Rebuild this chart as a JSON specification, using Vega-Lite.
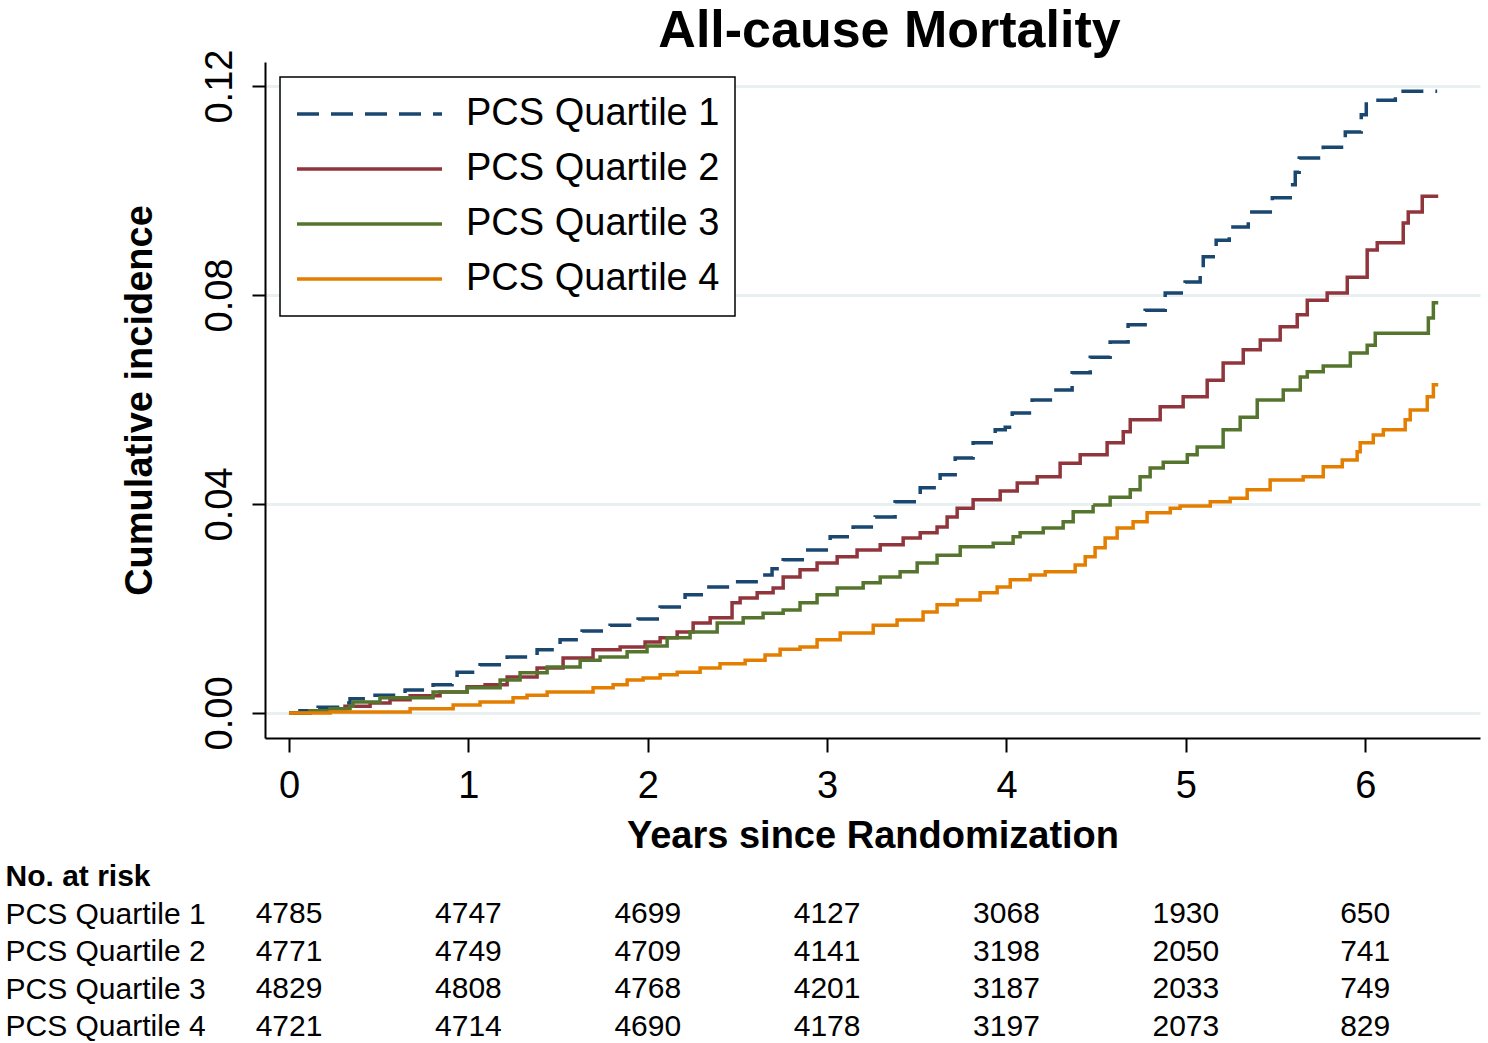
{
  "$schema": "https://vega.github.io/schema/vega-lite/v6.json",
  "padding": {"left": 5, "top": 5, "right": 8, "bottom": 5},
  "background": "white",
  "config": {
    "font": "Liberation Sans",
    "view": {"stroke": null},
    "axis": {"labelColor": "black", "titleColor": "black", "domainColor": "black", "tickColor": "black", "domainWidth": 2, "tickWidth": 2},
    "legend": {"orient": "top-left", "direction": "vertical", "offset": 15, "padding": 15, "strokeColor": "black", "strokeWidth": 1.5, "fillColor": "white", "labelFontSize": 38, "labelColor": "black", "labelOffset": 22, "symbolType": "stroke", "symbolSize": 21025, "symbolStrokeWidth": 3.5, "clipHeight": 44, "rowPadding": 11, "labelLimit": 0}
  },
  "datasets": {
    "curves": [
      {"g": "PCS Quartile 1", "t": 0, "y": 0},
      {"g": "PCS Quartile 1", "t": 0.061, "y": 0.0004},
      {"g": "PCS Quartile 1", "t": 0.128, "y": 0.0008},
      {"g": "PCS Quartile 1", "t": 0.162, "y": 0.0011},
      {"g": "PCS Quartile 1", "t": 0.312, "y": 0.0019},
      {"g": "PCS Quartile 1", "t": 0.340, "y": 0.0027},
      {"g": "PCS Quartile 1", "t": 0.468, "y": 0.0034},
      {"g": "PCS Quartile 1", "t": 0.647, "y": 0.0044},
      {"g": "PCS Quartile 1", "t": 0.803, "y": 0.0054},
      {"g": "PCS Quartile 1", "t": 0.909, "y": 0.0067},
      {"g": "PCS Quartile 1", "t": 0.937, "y": 0.0078},
      {"g": "PCS Quartile 1", "t": 1.065, "y": 0.0092},
      {"g": "PCS Quartile 1", "t": 1.216, "y": 0.0107},
      {"g": "PCS Quartile 1", "t": 1.383, "y": 0.0121},
      {"g": "PCS Quartile 1", "t": 1.511, "y": 0.0140},
      {"g": "PCS Quartile 1", "t": 1.634, "y": 0.0157},
      {"g": "PCS Quartile 1", "t": 1.790, "y": 0.0168},
      {"g": "PCS Quartile 1", "t": 1.946, "y": 0.0180},
      {"g": "PCS Quartile 1", "t": 2.069, "y": 0.0203},
      {"g": "PCS Quartile 1", "t": 2.208, "y": 0.0226},
      {"g": "PCS Quartile 1", "t": 2.325, "y": 0.0241},
      {"g": "PCS Quartile 1", "t": 2.487, "y": 0.0251},
      {"g": "PCS Quartile 1", "t": 2.626, "y": 0.0264},
      {"g": "PCS Quartile 1", "t": 2.693, "y": 0.0276},
      {"g": "PCS Quartile 1", "t": 2.755, "y": 0.0293},
      {"g": "PCS Quartile 1", "t": 2.877, "y": 0.0312},
      {"g": "PCS Quartile 1", "t": 3.017, "y": 0.0337},
      {"g": "PCS Quartile 1", "t": 3.145, "y": 0.0356},
      {"g": "PCS Quartile 1", "t": 3.268, "y": 0.0375},
      {"g": "PCS Quartile 1", "t": 3.379, "y": 0.0404},
      {"g": "PCS Quartile 1", "t": 3.519, "y": 0.0431},
      {"g": "PCS Quartile 1", "t": 3.630, "y": 0.0456},
      {"g": "PCS Quartile 1", "t": 3.714, "y": 0.0488},
      {"g": "PCS Quartile 1", "t": 3.814, "y": 0.0517},
      {"g": "PCS Quartile 1", "t": 3.937, "y": 0.0542},
      {"g": "PCS Quartile 1", "t": 3.993, "y": 0.0547},
      {"g": "PCS Quartile 1", "t": 4.032, "y": 0.0574},
      {"g": "PCS Quartile 1", "t": 4.143, "y": 0.0599},
      {"g": "PCS Quartile 1", "t": 4.260, "y": 0.0618},
      {"g": "PCS Quartile 1", "t": 4.366, "y": 0.0651},
      {"g": "PCS Quartile 1", "t": 4.467, "y": 0.0681},
      {"g": "PCS Quartile 1", "t": 4.578, "y": 0.0710},
      {"g": "PCS Quartile 1", "t": 4.678, "y": 0.0743},
      {"g": "PCS Quartile 1", "t": 4.773, "y": 0.0771},
      {"g": "PCS Quartile 1", "t": 4.885, "y": 0.0804},
      {"g": "PCS Quartile 1", "t": 4.996, "y": 0.0825},
      {"g": "PCS Quartile 1", "t": 5.080, "y": 0.0848},
      {"g": "PCS Quartile 1", "t": 5.097, "y": 0.0873},
      {"g": "PCS Quartile 1", "t": 5.169, "y": 0.0905},
      {"g": "PCS Quartile 1", "t": 5.242, "y": 0.0930},
      {"g": "PCS Quartile 1", "t": 5.348, "y": 0.0959},
      {"g": "PCS Quartile 1", "t": 5.482, "y": 0.0986},
      {"g": "PCS Quartile 1", "t": 5.582, "y": 0.1011},
      {"g": "PCS Quartile 1", "t": 5.610, "y": 0.1035},
      {"g": "PCS Quartile 1", "t": 5.632, "y": 0.1062},
      {"g": "PCS Quartile 1", "t": 5.766, "y": 0.1083},
      {"g": "PCS Quartile 1", "t": 5.889, "y": 0.1112},
      {"g": "PCS Quartile 1", "t": 5.978, "y": 0.1145},
      {"g": "PCS Quartile 1", "t": 6.006, "y": 0.1173},
      {"g": "PCS Quartile 1", "t": 6.168, "y": 0.1190},
      {"g": "PCS Quartile 1", "t": 6.401, "y": 0.1190},

      {"g": "PCS Quartile 2", "t": 0, "y": 0},
      {"g": "PCS Quartile 2", "t": 0.117, "y": 0.0004},
      {"g": "PCS Quartile 2", "t": 0.229, "y": 0.0008},
      {"g": "PCS Quartile 2", "t": 0.312, "y": 0.0013},
      {"g": "PCS Quartile 2", "t": 0.452, "y": 0.0019},
      {"g": "PCS Quartile 2", "t": 0.563, "y": 0.0025},
      {"g": "PCS Quartile 2", "t": 0.675, "y": 0.0033},
      {"g": "PCS Quartile 2", "t": 0.842, "y": 0.0040},
      {"g": "PCS Quartile 2", "t": 0.993, "y": 0.0050},
      {"g": "PCS Quartile 2", "t": 1.093, "y": 0.0054},
      {"g": "PCS Quartile 2", "t": 1.216, "y": 0.0069},
      {"g": "PCS Quartile 2", "t": 1.383, "y": 0.0086},
      {"g": "PCS Quartile 2", "t": 1.528, "y": 0.0105},
      {"g": "PCS Quartile 2", "t": 1.695, "y": 0.0121},
      {"g": "PCS Quartile 2", "t": 1.846, "y": 0.0126},
      {"g": "PCS Quartile 2", "t": 1.985, "y": 0.0136},
      {"g": "PCS Quartile 2", "t": 2.069, "y": 0.0144},
      {"g": "PCS Quartile 2", "t": 2.164, "y": 0.0155},
      {"g": "PCS Quartile 2", "t": 2.253, "y": 0.0172},
      {"g": "PCS Quartile 2", "t": 2.348, "y": 0.0182},
      {"g": "PCS Quartile 2", "t": 2.470, "y": 0.0211},
      {"g": "PCS Quartile 2", "t": 2.515, "y": 0.0220},
      {"g": "PCS Quartile 2", "t": 2.610, "y": 0.0230},
      {"g": "PCS Quartile 2", "t": 2.699, "y": 0.0239},
      {"g": "PCS Quartile 2", "t": 2.755, "y": 0.0260},
      {"g": "PCS Quartile 2", "t": 2.849, "y": 0.0274},
      {"g": "PCS Quartile 2", "t": 2.944, "y": 0.0287},
      {"g": "PCS Quartile 2", "t": 3.056, "y": 0.0299},
      {"g": "PCS Quartile 2", "t": 3.167, "y": 0.0312},
      {"g": "PCS Quartile 2", "t": 3.296, "y": 0.0322},
      {"g": "PCS Quartile 2", "t": 3.424, "y": 0.0335},
      {"g": "PCS Quartile 2", "t": 3.519, "y": 0.0345},
      {"g": "PCS Quartile 2", "t": 3.613, "y": 0.0356},
      {"g": "PCS Quartile 2", "t": 3.669, "y": 0.0375},
      {"g": "PCS Quartile 2", "t": 3.725, "y": 0.0392},
      {"g": "PCS Quartile 2", "t": 3.814, "y": 0.0408},
      {"g": "PCS Quartile 2", "t": 3.965, "y": 0.0425},
      {"g": "PCS Quartile 2", "t": 4.060, "y": 0.0440},
      {"g": "PCS Quartile 2", "t": 4.171, "y": 0.0452},
      {"g": "PCS Quartile 2", "t": 4.299, "y": 0.0478},
      {"g": "PCS Quartile 2", "t": 4.411, "y": 0.0494},
      {"g": "PCS Quartile 2", "t": 4.561, "y": 0.0517},
      {"g": "PCS Quartile 2", "t": 4.651, "y": 0.0538},
      {"g": "PCS Quartile 2", "t": 4.690, "y": 0.0561},
      {"g": "PCS Quartile 2", "t": 4.857, "y": 0.0586},
      {"g": "PCS Quartile 2", "t": 4.985, "y": 0.0605},
      {"g": "PCS Quartile 2", "t": 5.119, "y": 0.0637},
      {"g": "PCS Quartile 2", "t": 5.208, "y": 0.0670},
      {"g": "PCS Quartile 2", "t": 5.320, "y": 0.0695},
      {"g": "PCS Quartile 2", "t": 5.415, "y": 0.0714},
      {"g": "PCS Quartile 2", "t": 5.526, "y": 0.0739},
      {"g": "PCS Quartile 2", "t": 5.621, "y": 0.0762},
      {"g": "PCS Quartile 2", "t": 5.677, "y": 0.0790},
      {"g": "PCS Quartile 2", "t": 5.788, "y": 0.0804},
      {"g": "PCS Quartile 2", "t": 5.900, "y": 0.0834},
      {"g": "PCS Quartile 2", "t": 6.011, "y": 0.0886},
      {"g": "PCS Quartile 2", "t": 6.067, "y": 0.0900},
      {"g": "PCS Quartile 2", "t": 6.212, "y": 0.0938},
      {"g": "PCS Quartile 2", "t": 6.240, "y": 0.0959},
      {"g": "PCS Quartile 2", "t": 6.318, "y": 0.0989},
      {"g": "PCS Quartile 2", "t": 6.407, "y": 0.0989},

      {"g": "PCS Quartile 3", "t": 0, "y": 0},
      {"g": "PCS Quartile 3", "t": 0.117, "y": 0.0004},
      {"g": "PCS Quartile 3", "t": 0.229, "y": 0.0008},
      {"g": "PCS Quartile 3", "t": 0.340, "y": 0.0013},
      {"g": "PCS Quartile 3", "t": 0.357, "y": 0.0021},
      {"g": "PCS Quartile 3", "t": 0.507, "y": 0.0029},
      {"g": "PCS Quartile 3", "t": 0.803, "y": 0.0040},
      {"g": "PCS Quartile 3", "t": 0.993, "y": 0.0048},
      {"g": "PCS Quartile 3", "t": 1.177, "y": 0.0063},
      {"g": "PCS Quartile 3", "t": 1.288, "y": 0.0077},
      {"g": "PCS Quartile 3", "t": 1.439, "y": 0.0088},
      {"g": "PCS Quartile 3", "t": 1.623, "y": 0.0101},
      {"g": "PCS Quartile 3", "t": 1.734, "y": 0.0107},
      {"g": "PCS Quartile 3", "t": 1.885, "y": 0.0117},
      {"g": "PCS Quartile 3", "t": 1.996, "y": 0.0128},
      {"g": "PCS Quartile 3", "t": 2.108, "y": 0.0144},
      {"g": "PCS Quartile 3", "t": 2.236, "y": 0.0155},
      {"g": "PCS Quartile 3", "t": 2.387, "y": 0.0172},
      {"g": "PCS Quartile 3", "t": 2.532, "y": 0.0182},
      {"g": "PCS Quartile 3", "t": 2.643, "y": 0.0191},
      {"g": "PCS Quartile 3", "t": 2.755, "y": 0.0197},
      {"g": "PCS Quartile 3", "t": 2.849, "y": 0.0211},
      {"g": "PCS Quartile 3", "t": 2.944, "y": 0.0226},
      {"g": "PCS Quartile 3", "t": 3.056, "y": 0.0239},
      {"g": "PCS Quartile 3", "t": 3.201, "y": 0.0249},
      {"g": "PCS Quartile 3", "t": 3.296, "y": 0.0260},
      {"g": "PCS Quartile 3", "t": 3.407, "y": 0.0270},
      {"g": "PCS Quartile 3", "t": 3.502, "y": 0.0287},
      {"g": "PCS Quartile 3", "t": 3.613, "y": 0.0302},
      {"g": "PCS Quartile 3", "t": 3.742, "y": 0.0318},
      {"g": "PCS Quartile 3", "t": 3.926, "y": 0.0325},
      {"g": "PCS Quartile 3", "t": 4.037, "y": 0.0337},
      {"g": "PCS Quartile 3", "t": 4.076, "y": 0.0345},
      {"g": "PCS Quartile 3", "t": 4.205, "y": 0.0354},
      {"g": "PCS Quartile 3", "t": 4.316, "y": 0.0366},
      {"g": "PCS Quartile 3", "t": 4.372, "y": 0.0385},
      {"g": "PCS Quartile 3", "t": 4.483, "y": 0.0398},
      {"g": "PCS Quartile 3", "t": 4.578, "y": 0.0413},
      {"g": "PCS Quartile 3", "t": 4.690, "y": 0.0427},
      {"g": "PCS Quartile 3", "t": 4.745, "y": 0.0452},
      {"g": "PCS Quartile 3", "t": 4.801, "y": 0.0469},
      {"g": "PCS Quartile 3", "t": 4.874, "y": 0.0480},
      {"g": "PCS Quartile 3", "t": 5.008, "y": 0.0494},
      {"g": "PCS Quartile 3", "t": 5.063, "y": 0.0509},
      {"g": "PCS Quartile 3", "t": 5.208, "y": 0.0542},
      {"g": "PCS Quartile 3", "t": 5.303, "y": 0.0566},
      {"g": "PCS Quartile 3", "t": 5.398, "y": 0.0599},
      {"g": "PCS Quartile 3", "t": 5.543, "y": 0.0618},
      {"g": "PCS Quartile 3", "t": 5.638, "y": 0.0643},
      {"g": "PCS Quartile 3", "t": 5.677, "y": 0.0653},
      {"g": "PCS Quartile 3", "t": 5.766, "y": 0.0664},
      {"g": "PCS Quartile 3", "t": 5.917, "y": 0.0689},
      {"g": "PCS Quartile 3", "t": 6.011, "y": 0.0704},
      {"g": "PCS Quartile 3", "t": 6.056, "y": 0.0727},
      {"g": "PCS Quartile 3", "t": 6.352, "y": 0.0756},
      {"g": "PCS Quartile 3", "t": 6.380, "y": 0.0785},
      {"g": "PCS Quartile 3", "t": 6.407, "y": 0.0785},

      {"g": "PCS Quartile 4", "t": 0, "y": 0},
      {"g": "PCS Quartile 4", "t": 0.229, "y": 0.0002},
      {"g": "PCS Quartile 4", "t": 0.675, "y": 0.0008},
      {"g": "PCS Quartile 4", "t": 0.915, "y": 0.0015},
      {"g": "PCS Quartile 4", "t": 1.065, "y": 0.0021},
      {"g": "PCS Quartile 4", "t": 1.249, "y": 0.0029},
      {"g": "PCS Quartile 4", "t": 1.327, "y": 0.0034},
      {"g": "PCS Quartile 4", "t": 1.439, "y": 0.0040},
      {"g": "PCS Quartile 4", "t": 1.695, "y": 0.0048},
      {"g": "PCS Quartile 4", "t": 1.807, "y": 0.0054},
      {"g": "PCS Quartile 4", "t": 1.885, "y": 0.0063},
      {"g": "PCS Quartile 4", "t": 1.974, "y": 0.0067},
      {"g": "PCS Quartile 4", "t": 2.069, "y": 0.0073},
      {"g": "PCS Quartile 4", "t": 2.164, "y": 0.0078},
      {"g": "PCS Quartile 4", "t": 2.292, "y": 0.0086},
      {"g": "PCS Quartile 4", "t": 2.403, "y": 0.0094},
      {"g": "PCS Quartile 4", "t": 2.543, "y": 0.0101},
      {"g": "PCS Quartile 4", "t": 2.654, "y": 0.0111},
      {"g": "PCS Quartile 4", "t": 2.738, "y": 0.0122},
      {"g": "PCS Quartile 4", "t": 2.849, "y": 0.0126},
      {"g": "PCS Quartile 4", "t": 2.944, "y": 0.0140},
      {"g": "PCS Quartile 4", "t": 3.073, "y": 0.0153},
      {"g": "PCS Quartile 4", "t": 3.257, "y": 0.0168},
      {"g": "PCS Quartile 4", "t": 3.390, "y": 0.0178},
      {"g": "PCS Quartile 4", "t": 3.535, "y": 0.0193},
      {"g": "PCS Quartile 4", "t": 3.613, "y": 0.0207},
      {"g": "PCS Quartile 4", "t": 3.725, "y": 0.0216},
      {"g": "PCS Quartile 4", "t": 3.853, "y": 0.0230},
      {"g": "PCS Quartile 4", "t": 3.948, "y": 0.0241},
      {"g": "PCS Quartile 4", "t": 4.021, "y": 0.0255},
      {"g": "PCS Quartile 4", "t": 4.132, "y": 0.0264},
      {"g": "PCS Quartile 4", "t": 4.216, "y": 0.0270},
      {"g": "PCS Quartile 4", "t": 4.383, "y": 0.0283},
      {"g": "PCS Quartile 4", "t": 4.439, "y": 0.0299},
      {"g": "PCS Quartile 4", "t": 4.494, "y": 0.0316},
      {"g": "PCS Quartile 4", "t": 4.550, "y": 0.0335},
      {"g": "PCS Quartile 4", "t": 4.617, "y": 0.0354},
      {"g": "PCS Quartile 4", "t": 4.706, "y": 0.0366},
      {"g": "PCS Quartile 4", "t": 4.784, "y": 0.0383},
      {"g": "PCS Quartile 4", "t": 4.913, "y": 0.0392},
      {"g": "PCS Quartile 4", "t": 4.968, "y": 0.0396},
      {"g": "PCS Quartile 4", "t": 5.136, "y": 0.0404},
      {"g": "PCS Quartile 4", "t": 5.247, "y": 0.0411},
      {"g": "PCS Quartile 4", "t": 5.342, "y": 0.0427},
      {"g": "PCS Quartile 4", "t": 5.470, "y": 0.0446},
      {"g": "PCS Quartile 4", "t": 5.654, "y": 0.0452},
      {"g": "PCS Quartile 4", "t": 5.766, "y": 0.0471},
      {"g": "PCS Quartile 4", "t": 5.872, "y": 0.0484},
      {"g": "PCS Quartile 4", "t": 5.955, "y": 0.0500},
      {"g": "PCS Quartile 4", "t": 5.972, "y": 0.0517},
      {"g": "PCS Quartile 4", "t": 6.045, "y": 0.0532},
      {"g": "PCS Quartile 4", "t": 6.101, "y": 0.0542},
      {"g": "PCS Quartile 4", "t": 6.223, "y": 0.0561},
      {"g": "PCS Quartile 4", "t": 6.251, "y": 0.0580},
      {"g": "PCS Quartile 4", "t": 6.346, "y": 0.0605},
      {"g": "PCS Quartile 4", "t": 6.380, "y": 0.0628},
      {"g": "PCS Quartile 4", "t": 6.407, "y": 0.0628}
    ],
    "risk": [
      {"row": "PCS Quartile 1", "t": 0, "n": "4785"},
      {"row": "PCS Quartile 1", "t": 1, "n": "4747"},
      {"row": "PCS Quartile 1", "t": 2, "n": "4699"},
      {"row": "PCS Quartile 1", "t": 3, "n": "4127"},
      {"row": "PCS Quartile 1", "t": 4, "n": "3068"},
      {"row": "PCS Quartile 1", "t": 5, "n": "1930"},
      {"row": "PCS Quartile 1", "t": 6, "n": "650"},
      {"row": "PCS Quartile 2", "t": 0, "n": "4771"},
      {"row": "PCS Quartile 2", "t": 1, "n": "4749"},
      {"row": "PCS Quartile 2", "t": 2, "n": "4709"},
      {"row": "PCS Quartile 2", "t": 3, "n": "4141"},
      {"row": "PCS Quartile 2", "t": 4, "n": "3198"},
      {"row": "PCS Quartile 2", "t": 5, "n": "2050"},
      {"row": "PCS Quartile 2", "t": 6, "n": "741"},
      {"row": "PCS Quartile 3", "t": 0, "n": "4829"},
      {"row": "PCS Quartile 3", "t": 1, "n": "4808"},
      {"row": "PCS Quartile 3", "t": 2, "n": "4768"},
      {"row": "PCS Quartile 3", "t": 3, "n": "4201"},
      {"row": "PCS Quartile 3", "t": 4, "n": "3187"},
      {"row": "PCS Quartile 3", "t": 5, "n": "2033"},
      {"row": "PCS Quartile 3", "t": 6, "n": "749"},
      {"row": "PCS Quartile 4", "t": 0, "n": "4721"},
      {"row": "PCS Quartile 4", "t": 1, "n": "4714"},
      {"row": "PCS Quartile 4", "t": 2, "n": "4690"},
      {"row": "PCS Quartile 4", "t": 3, "n": "4178"},
      {"row": "PCS Quartile 4", "t": 4, "n": "3197"},
      {"row": "PCS Quartile 4", "t": 5, "n": "2073"},
      {"row": "PCS Quartile 4", "t": 6, "n": "829"}
    ]
  },
  "spacing": 120,
  "bounds": "flush",
  "resolve": {
    "scale": {"x": "independent", "y": "independent", "color": "independent", "strokeDash": "independent"},
    "legend": {"color": "independent", "strokeDash": "independent"}
  },
  "vconcat": [
    {
      "width": 1215,
      "height": 676,
      "title": {"text": "All-cause Mortality", "fontSize": 52, "fontWeight": "bold", "anchor": "middle", "frame": "group", "baseline": "alphabetic", "offset": -50, "dx": 17, "color": "black"},
      "data": {"name": "curves"},
      "mark": {"type": "line", "interpolate": "step-after", "strokeWidth": 3.5, "strokeCap": "butt"},
      "encoding": {
        "x": {
          "field": "t", "type": "quantitative",
          "scale": {"domain": [-0.134, 6.64], "nice": false, "zero": false},
          "axis": {"values": [0, 1, 2, 3, 4, 5, 6], "format": "d", "grid": false, "tickSize": 14, "labelFontSize": 38, "labelPadding": 15, "title": "Years since Randomization", "titleFontSize": 38, "titleFontWeight": "bold", "titlePadding": 12, "labelFlush": false}
        },
        "y": {
          "field": "y", "type": "quantitative",
          "scale": {"domain": [-0.0048, 0.1246], "nice": false, "zero": false},
          "axis": {"values": [0, 0.04, 0.08, 0.12], "format": ".2f", "grid": true, "gridColor": "#e8f0f2", "gridWidth": 3, "tickSize": 13, "labelFontSize": 38, "labelAngle": -90, "labelAlign": "center", "labelBaseline": "bottom", "labelPadding": 13, "title": "Cumulative incidence", "titleFontSize": 38, "titleFontWeight": "bold", "titlePadding": 42, "labelFlush": false}
        },
        "color": {
          "field": "g", "type": "nominal",
          "scale": {"domain": ["PCS Quartile 1", "PCS Quartile 2", "PCS Quartile 3", "PCS Quartile 4"], "range": ["#1a476f", "#90353b", "#55752f", "#e37e00"]},
          "legend": {"title": null}
        },
        "strokeDash": {
          "field": "g", "type": "nominal",
          "scale": {"domain": ["PCS Quartile 1", "PCS Quartile 2", "PCS Quartile 3", "PCS Quartile 4"], "range": [[22, 12], [1, 0], [1, 0], [1, 0]]},
          "legend": {"title": null}
        }
      }
    },
    {
      "width": 1215,
      "height": 187.5,
      "data": {"name": "risk"},
      "mark": {"type": "text", "fontSize": 30, "align": "center", "baseline": "middle", "color": "black"},
      "encoding": {
        "x": {
          "field": "t", "type": "quantitative",
          "scale": {"domain": [-0.134, 6.64], "nice": false, "zero": false},
          "axis": null
        },
        "y": {
          "field": "row", "type": "nominal",
          "scale": {"type": "point", "domain": ["No. at risk", "PCS Quartile 1", "PCS Quartile 2", "PCS Quartile 3", "PCS Quartile 4"], "padding": 0.5},
          "axis": {"title": null, "domain": false, "ticks": false, "tickSize": 0, "grid": false, "labelAlign": "left", "labelBaseline": "middle", "labelPadding": 260, "labelFontSize": 30, "labelLimit": 0, "labelOverlap": false, "labelFontWeight": {"condition": {"test": "datum.value === 'No. at risk'", "value": "bold"}, "value": "normal"}}
        },
        "text": {"field": "n", "type": "nominal"}
      }
    }
  ]
}
